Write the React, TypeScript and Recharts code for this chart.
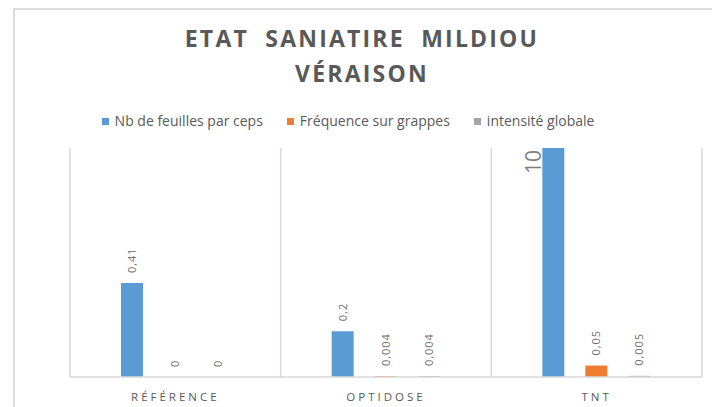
import React from 'react';
import { BarChart, Bar, XAxis, YAxis, CartesianGrid, LabelList } from 'recharts';

const categories = ['RÉFÉRENCE', 'OPTIDOSE', 'TNT'];
const feuilles = [0.41, 0.2, 10];
const frequence = [0, 0.004, 0.05];
const intensite = [0, 0.004, 0.005];
const seriesNames = ['Nb de feuilles par ceps', 'Fréquence sur grappes', 'intensité globale'];
const titleLines = ['ETAT  SANIATIRE  MILDIOU', 'VÉRAISON'];
const yMax = 1;

const seriesKeys = ['feuilles', 'frequence', 'intensite'];
const seriesColors = ['#5b9bd5', '#ed7d31', '#a5a5a5'];

const data = categories.map((c, i) => ({
  cat: c,
  feuilles: feuilles[i],
  frequence: frequence[i],
  intensite: intensite[i],
}));

const FONT = '"Open Sans", "Noto Sans", sans-serif';
const TEXT = '#595959';

const fmt = (v: number) => String(v).replace('.', ',');

const ValueLabel = (props: any) => {
  const { x, y, width, height, value } = props;
  const v = Number(value);
  const h = Number(height) || 0;
  const base = y + h;
  if (v > yMax) {
    const top = base - (h * yMax) / v;
    return (
      <text
        x={x - 1.5}
        y={top + 26}
        transform={`rotate(-90 ${x - 1.5} ${top + 26})`}
        fontSize={21}
        fontFamily={FONT}
        fill="#7f7f7f"
        textAnchor="start"
      >
        {fmt(v)}
      </text>
    );
  }
  const cx = x + width / 2 + 4;
  const cy = base - h * (v === 0 ? 0 : 1) - 10;
  return (
    <text
      x={cx}
      y={cy}
      transform={`rotate(-90 ${cx} ${cy})`}
      fontSize={11}
      letterSpacing={1}
      fontFamily={FONT}
      fill="#6f6f6f"
      textAnchor="start"
    >
      {fmt(v)}
    </text>
  );
};

const CatTick = (props: any) => {
  const { x, y, payload } = props;
  return (
    <text
      x={x}
      y={y + 16}
      textAnchor="middle"
      fontSize={11.5}
      letterSpacing={3}
      fontFamily={FONT}
      fill={TEXT}
    >
      {payload.value}
    </text>
  );
};

export default function App() {
  return (
    <div
      style={{
        position: 'fixed',
        left: 0,
        top: 0,
        width: 712,
        height: 407,
        overflow: 'hidden',
        background: '#fff',
        fontFamily: FONT,
      }}
    >
      <div
        style={{
          position: 'absolute',
          left: 13,
          top: 8,
          width: 800,
          height: 500,
          borderTop: '2px solid #dcdcdc',
          borderLeft: '2px solid #dcdcdc',
        }}
      />
      <div
        style={{
          position: 'absolute',
          left: 0,
          top: 21,
          width: 724,
          textAlign: 'center',
          color: TEXT,
          fontWeight: 700,
          fontSize: 23,
          letterSpacing: 2.2,
          lineHeight: '35px',
          whiteSpace: 'pre',
        }}
      >
        {titleLines.map((l) => (
          <div key={l}>{l}</div>
        ))}
      </div>
      <div
        style={{
          position: 'absolute',
          left: 0,
          top: 111,
          width: 696,
          display: 'flex',
          justifyContent: 'center',
          gap: 24,
          fontSize: 14,
          color: TEXT,
          lineHeight: '20px',
        }}
      >
        {seriesNames.map((n, i) => (
          <div key={n} style={{ display: 'flex', alignItems: 'center' }}>
            <span
              style={{
                display: 'inline-block',
                width: 7,
                height: 7,
                background: seriesColors[i],
                marginRight: 6,
              }}
            />
            <span>{n}</span>
          </div>
        ))}
      </div>
      <div style={{ position: 'absolute', left: 0, top: 0 }}>
        <BarChart
          width={712}
          height={407}
          data={data}
          margin={{ top: 148, right: 10, bottom: 0, left: 70 }}
          barSize={22}
          barGap={21}
        >
          <CartesianGrid
            horizontal={false}
            stroke="#d9d9d9"
            strokeWidth={1.5}
            verticalCoordinatesGenerator={({ offset }: any) =>
              Array.from({ length: categories.length + 1 }, (_, i) => offset.left + (i * offset.width) / categories.length)
            }
          />
          <XAxis
            dataKey="cat"
            height={30}
            axisLine={{ stroke: '#d9d9d9', strokeWidth: 1.5 }}
            tickLine={false}
            tick={<CatTick />}
            interval={0}
          />
          <YAxis hide domain={[0, yMax]} allowDataOverflow />
          {seriesKeys.map((k, i) => (
            <Bar
              key={k}
              dataKey={k}
              name={seriesNames[i]}
              fill={seriesColors[i]}
              isAnimationActive={false}
              minPointSize={(v: any) => (Number(v) === 0 ? 0.001 : 0)}
            >
              <LabelList dataKey={k} content={<ValueLabel />} />
            </Bar>
          ))}
        </BarChart>
      </div>
    </div>
  );
}
